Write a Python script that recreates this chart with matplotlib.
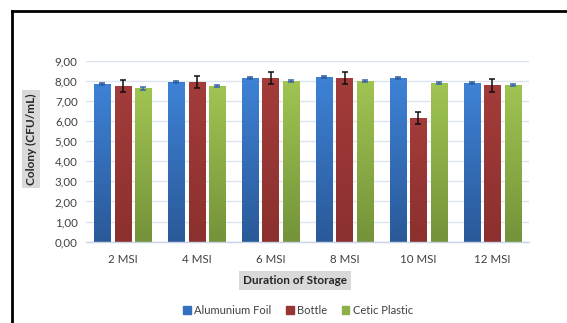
import numpy as np
import matplotlib
matplotlib.use("Agg")
import matplotlib.pyplot as plt
from matplotlib.lines import Line2D
from matplotlib.colors import LinearSegmentedColormap

plt.rcParams['font.family'] = ['Lato', 'DejaVu Sans']

# data
durations = ["2 MSI", "4 MSI", "6 MSI", "8 MSI", "10 MSI", "12 MSI"]
series = ["Alumunium Foil", "Bottle", "Cetic Plastic"]
foil = [7.85, 7.95, 8.15, 8.18, 8.15, 7.88]
bottle = [7.75, 7.92, 8.12, 8.15, 6.17, 7.77]
plastic = [7.62, 7.75, 7.97, 7.99, 7.88, 7.80]
foil_err = [0.05, 0.05, 0.05, 0.05, 0.05, 0.05]
bottle_err = [0.30, 0.30, 0.30, 0.30, 0.30, 0.31]
plastic_err = [0.06, 0.06, 0.05, 0.04, 0.05, 0.05]
yticks = np.arange(0, 10, 1)

# colours: (top, bottom) for the gradient, solid for legend
grad = [("#3e82d6", "#2a5998"), ("#a33c3a", "#8b302e"), ("#a0c452", "#74933a")]
solid = ["#3570c0", "#983634", "#8cb048"]
err_col = ["#2c5a9e", "#111111", "#3a64a8"]

fig = plt.figure(figsize=(5.67, 3.23), dpi=100)
ax = fig.add_axes([86/567, 1-241.7/323, 443.3/567, 181/323])

x = np.arange(len(durations))
pitch = 0.277
width = 0.223
vals = [foil, bottle, plastic]
errs = [foil_err, bottle_err, plastic_err]

grad_img = np.linspace(1, 0, 256).reshape(-1, 1)
for i in range(3):
    xs = x + (i - 1) * pitch
    bars = ax.bar(xs, vals[i], width, color=solid[i], zorder=2, label=series[i])
    cmap = LinearSegmentedColormap.from_list("g%d" % i, [grad[i][1], grad[i][0]])
    for b in bars:
        x0, y0 = b.get_x(), b.get_y()
        im = ax.imshow(grad_img, cmap=cmap, aspect="auto", zorder=2.5,
                       extent=[x0, x0 + b.get_width(), y0, y0 + b.get_height()],
                       vmin=0, vmax=1)
        im.set_clip_path(b)
    ax.errorbar(xs, vals[i], yerr=errs[i], fmt="none", ecolor=err_col[i],
                elinewidth=1.1, capsize=2.5, capthick=1.1, zorder=4)

ax.set_xlim(-0.5, len(durations) - 0.5)
ax.set_ylim(0, 9)
ax.set_yticks(yticks)
ax.set_yticklabels(["%d,00" % v for v in yticks])
ax.set_xticks(x)
ax.set_xticklabels(durations)
ax.tick_params(axis="both", length=0, labelsize=8.3, colors="#404040")
ax.tick_params(axis="x", pad=9)
ax.tick_params(axis="y", pad=6)
ax.yaxis.grid(True, color="#dce4f0", linewidth=1, zorder=0)
ax.set_axisbelow(True)
for s in ["top", "right", "left"]:
    ax.spines[s].set_visible(False)
ax.spines["bottom"].set_color("#c8d4e6")
ax.spines["bottom"].set_linewidth(1)

box = dict(boxstyle="square,pad=0.3", facecolor="#d9d9d9", edgecolor="none")
fig.text(31/567, 1-139/323, "Colony (CFU/mL)", rotation=90, ha="center", va="center",
         fontsize=8.5, fontweight="bold", color="#262626", bbox=box)
fig.text(295/567, 1-280.5/323, "Duration of Storage", ha="center", va="center",
         fontsize=8.5, fontweight="bold", color="#262626", bbox=box)

handles = [plt.Rectangle((0, 0), 1, 1, color=c) for c in solid]
fig.legend(handles, series, loc="center", bbox_to_anchor=(298/567, 1-310/323),
           ncol=3, frameon=False, fontsize=8, handlelength=0.7, handleheight=0.7,
           handletextpad=0.3, columnspacing=1.3, labelcolor="#404040")

# black frame on the left and top
fig.add_artist(Line2D([11.5/567, 11.5/567], [0, 1-10.5/323], color="black", lw=2))
fig.add_artist(Line2D([11.5/567, 1], [1-10.5/323, 1-10.5/323], color="black", lw=2))

fig.savefig("out.png", dpi=100)
